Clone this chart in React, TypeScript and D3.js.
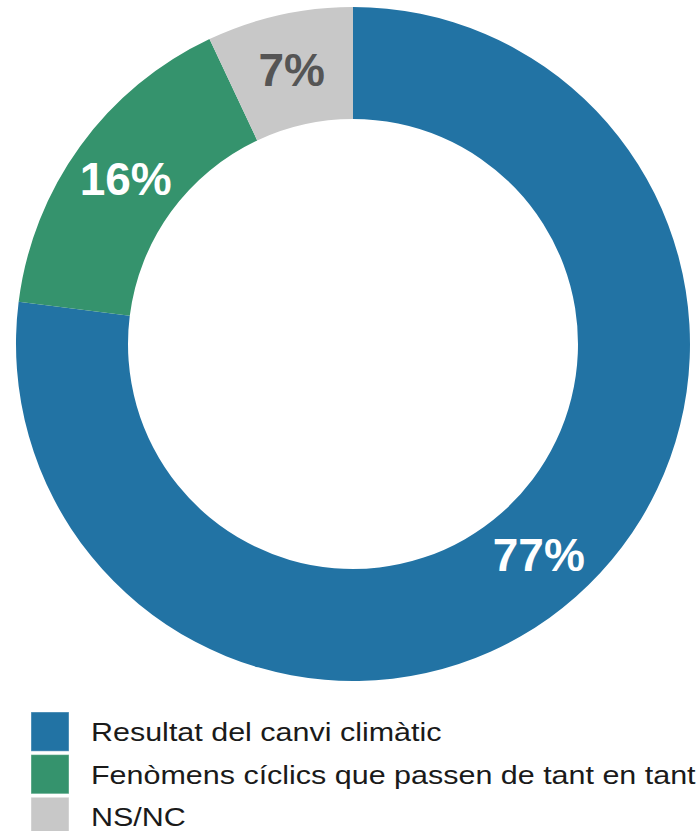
import React, { useEffect, useRef } from "react";
import * as d3 from "d3";

const categories = [
  "Resultat del canvi climàtic",
  "Fenòmens cíclics que passen de tant en tant",
  "NS/NC",
];
const values = [77, 16, 7];
const colors = ["#2273a4", "#35936d", "#c8c8c8"];
const labelColors = ["#ffffff", "#ffffff", "#555555"];

const WIDTH = 700;
const HEIGHT = 831;
const CX = 353;
const CY = 344;
const OUTER = 337;
const INNER = 225;

export default function App() {
  const ref = useRef<SVGSVGElement>(null);

  useEffect(() => {
    const container = ref.current;
    if (!container) return;

    const svg = d3.select(container);
    svg.selectAll("*").remove();

    const data = categories.map((name, i) => ({ name, value: values[i], i }));

    const pie = d3
      .pie<{ name: string; value: number; i: number }>()
      .value((d) => d.value)
      .sort(null);

    const arc = d3
      .arc<d3.PieArcDatum<{ name: string; value: number; i: number }>>()
      .innerRadius(INNER)
      .outerRadius(OUTER);

    const arcs = pie(data);

    const g = svg.append("g").attr("transform", `translate(${CX},${CY})`);

    g.selectAll("path")
      .data(arcs)
      .enter()
      .append("path")
      .attr("d", arc)
      .attr("fill", (d) => colors[d.data.i]);

    // percentage labels at the centroid of each slice
    g.selectAll("text")
      .data(arcs)
      .enter()
      .append("text")
      .attr("x", (d) => arc.centroid(d)[0])
      .attr("y", (d) => arc.centroid(d)[1])
      .attr("dy", "0.36em")
      .attr("text-anchor", "middle")
      .style("font-family", "'Liberation Sans', Arial, sans-serif")
      .style("font-weight", "bold")
      .style("font-size", "46px")
      .attr("fill", (d) => labelColors[d.data.i])
      .text((d) => `${d.data.value}%`);

    // legend
    const legendY = d3
      .scaleBand()
      .domain(categories)
      .range([712, 712 + 41.5 * categories.length])
      .paddingInner(0.08);

    const legend = svg.append("g");

    legend
      .selectAll("rect")
      .data(data)
      .enter()
      .append("rect")
      .attr("x", 31)
      .attr("y", (d) => legendY(d.name)!)
      .attr("width", 38)
      .attr("height", legendY.bandwidth())
      .attr("fill", (d) => colors[d.i])
      .attr("stroke", "#ffffff")
      .attr("stroke-opacity", 0.4)
      .attr("stroke-width", 1);

    legend
      .selectAll("text")
      .data(data)
      .enter()
      .append("text")
      .attr(
        "transform",
        (d) =>
          `translate(91, ${legendY(d.name)! + legendY.bandwidth() / 2 + 9.5}) scale(1.15, 1)`
      )
      .style("font-family", "'Liberation Sans', Arial, sans-serif")
      .style("font-size", "26.5px")
      .attr("fill", "#1a1a1a")
      .text((d) => d.name);
  }, [ref]);

  return (
    <svg
      ref={ref}
      width={WIDTH}
      height={HEIGHT}
      style={{ position: "absolute", left: 0, top: 0, background: "#ffffff" }}
    />
  );
}
